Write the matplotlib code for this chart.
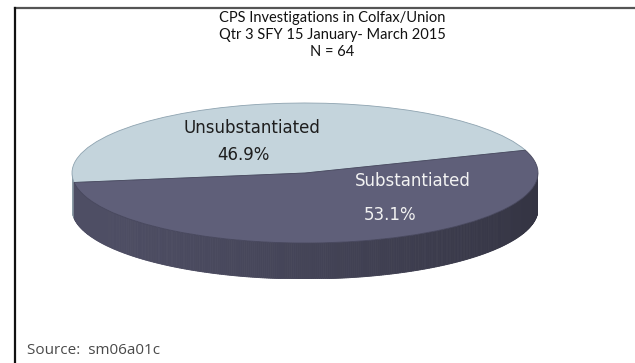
import numpy as np
import matplotlib.pyplot as plt
from matplotlib.patches import Polygon
from matplotlib.lines import Line2D
import matplotlib.colors as mcolors

# ---- data ----
categories = ['Unsubstantiated', 'Substantiated']
counts = [30, 34]                       # N = 64
title_lines = ['CPS Investigations in Colfax/Union',
               'Qtr 3 SFY 15 January- March 2015',
               'N = 64']
source_text = 'Source:  sm06a01c'

# ---- styling ----
top_colors = ['#c4d4dc', '#5f5f79']
side_colors = ['#8c9ca6', '#4e4e64']
label_colors = ['#1e1e1e', '#f2f2f2']
start_angle = 19.0

W, H = 635, 363
fig = plt.figure(figsize=(W / 100, H / 100), dpi=100)
fig.patch.set_facecolor('white')

# frame lines (top and left border)
fig.add_artist(Line2D([15 / W, 1], [1 - 8 / H, 1 - 8 / H], color='#555555', lw=1.6,
                      transform=fig.transFigure))
fig.add_artist(Line2D([15 / W, 15 / W], [0, 1 - 8 / H], color='#111111', lw=1.6,
                      transform=fig.transFigure))

# pie geometry (pixels)
cx, cy, a, b, depth = 305, 173, 233, 70, 36
ax = fig.add_axes([(cx - a) / W, (H - (cy + b + depth)) / H, 2 * a / W, (2 * b + depth) / H])
d = depth / b

total = sum(counts)
fracs = [c / total for c in counts]
bounds = [start_angle]
for f in fracs:
    bounds.append(bounds[-1] + 360 * f)

# side (front visible part: 180..360 deg)
def side_segments():
    for i in range(len(counts)):
        lo, hi = bounds[i], bounds[i + 1]
        for shift in (-360, 0, 360):
            s, e = max(lo + shift, 180), min(hi + shift, 360)
            if e > s:
                yield i, s, e

for i, s, e in side_segments():
    angs = np.linspace(s, e, int(max(2, (e - s) * 2)))
    base = np.array(mcolors.to_rgb(side_colors[i]))
    for k in range(len(angs) - 1):
        t0, t1 = np.radians(angs[k]), np.radians(angs[k + 1])
        tm = 0.5 * (t0 + t1)
        fac = 1.0 - 0.34 * (0.5 + 0.5 * np.cos(tm)) + 0.04 * (-np.sin(tm))
        col = np.clip(base * fac, 0, 1)
        xs = [np.cos(t0), np.cos(t1), np.cos(t1), np.cos(t0)]
        ys = [np.sin(t0), np.sin(t1), np.sin(t1) - d, np.sin(t0) - d]
        ax.add_patch(Polygon(np.column_stack([xs, ys]), closed=True,
                             facecolor=col, edgecolor=col, lw=0.6))

# top surface
wedges, _ = ax.pie(counts, colors=top_colors, startangle=start_angle, counterclock=True,
                   radius=1.0, wedgeprops=dict(edgecolor='#48485e', linewidth=0.6))
wedges[0].set_edgecolor('#8ea3b0')
ax.set_aspect('auto')
ax.set_xlim(-1, 1)
ax.set_ylim(-1 - d, 1)
ax.axis('off')

# labels
lab_font = dict(family='DejaVu Sans', fontsize=12)
fig.text(252 / W, 1 - 128 / H, categories[0], color=label_colors[0], ha='center', va='center', **lab_font)
fig.text(243 / W, 1 - 155 / H, f'{fracs[0] * 100:.1f}%', color=label_colors[0], ha='center', va='center', **lab_font)
fig.text(413 / W, 1 - 181 / H, categories[1], color=label_colors[1], ha='center', va='center', **lab_font)
fig.text(390 / W, 1 - 215 / H, f'{fracs[1] * 100:.1f}%', color=label_colors[1], ha='center', va='center', **lab_font)

# title
for j, line in enumerate(title_lines):
    fig.text(332 / W, 1 - (18 + 17 * j) / H, line, ha='center', va='center',
             family='Lato', fontsize=10.5, color='#111111')

fig.text(27 / W, 1 - 351 / H, source_text, ha='left', va='center',
         family='Open Sans', fontsize=11, color='#4a4a4a')

fig.savefig('out.png', dpi=100, facecolor='white')
